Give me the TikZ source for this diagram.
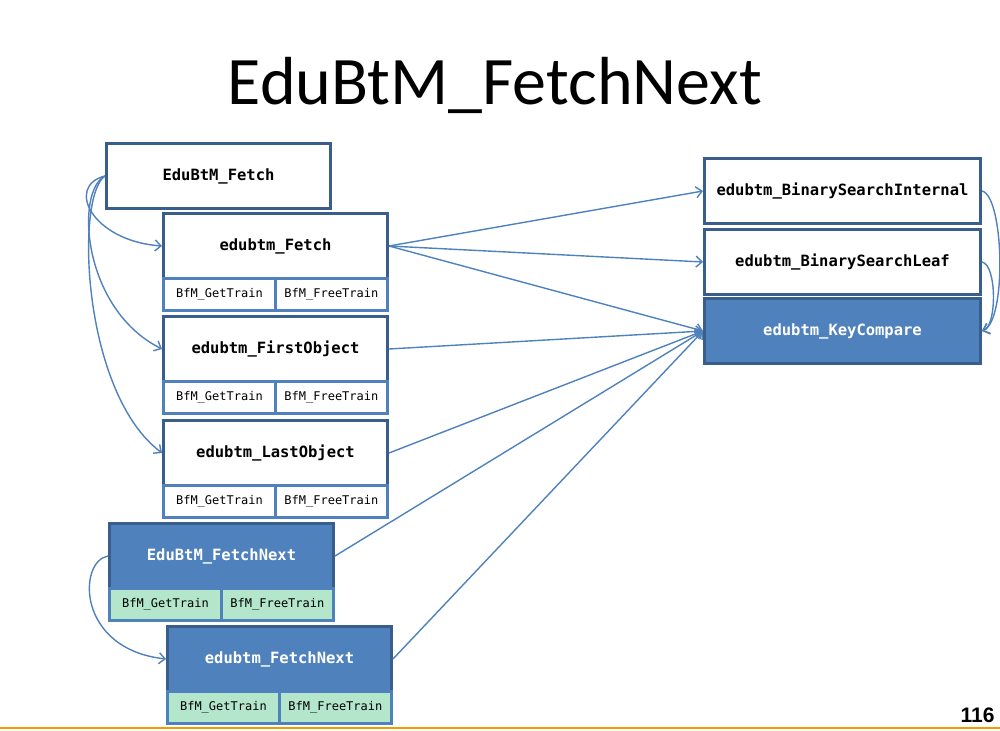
\documentclass[tikz,border=0pt]{standalone}
\usepackage{fontspec}
\setmainfont{Carlito}
\newfontfamily\monof{DejaVu Sans Mono}
\newfontfamily\pgnum{Liberation Sans}
\usetikzlibrary{arrows.meta}
\definecolor{dk}{HTML}{3A5E8C}
\definecolor{bl}{HTML}{4F81BD}
\definecolor{gr}{HTML}{B3E6CA}
\definecolor{og}{HTML}{F59B00}
\begin{document}
\begin{tikzpicture}[x=1pt,y=-1pt,
 fn/.style={draw=dk,line width=3pt,fill=white,minimum width=224pt,minimum height=65pt,inner sep=0pt,anchor=north west,font=\monof\bfseries\fontsize{15.5}{17}\selectfont},
 fnhi/.style={fn,fill=bl,text=white},
 sub/.style={draw=bl,line width=2.8pt,fill=white,minimum width=112pt,minimum height=32pt,inner sep=0pt,anchor=north west,font=\monof\fontsize{12}{14}\selectfont},
 subg/.style={sub,fill=gr},
 arr/.style={draw=bl,line width=1.4pt,-{Straight Barb[length=6pt,width=11pt]}}]
\useasboundingbox (0,0) rectangle (1000,730);
\node (title) at (495,85) {\fontsize{68}{70}\selectfont EduBtM\_FetchNext};
% left column
\node[fn] (A) at (105,142) {EduBtM\_Fetch};
\node[fn] (B) at (162,212) {edubtm\_Fetch};
\node[sub] (B1) at (162,277) {BfM\_GetTrain};
\node[sub] (B2) at (274,277) {BfM\_FreeTrain};
\node[fn] (C) at (162,315) {edubtm\_FirstObject};
\node[sub] (C1) at (162,380) {BfM\_GetTrain};
\node[sub] (C2) at (274,380) {BfM\_FreeTrain};
\node[fn] (D) at (162,419) {edubtm\_LastObject};
\node[sub] (D1) at (162,484) {BfM\_GetTrain};
\node[sub] (D2) at (274,484) {BfM\_FreeTrain};
\node[fnhi] (E) at (108,522) {EduBtM\_FetchNext};
\node[subg] (E1) at (108,587) {BfM\_GetTrain};
\node[subg] (E2) at (220,587) {BfM\_FreeTrain};
\node[fnhi] (F) at (166,625) {edubtm\_FetchNext};
\node[subg] (F1) at (166,690) {BfM\_GetTrain};
\node[subg] (F2) at (278,690) {BfM\_FreeTrain};
% right column
\node[fn,minimum width=276pt] (G) at (703,157) {edubtm\_BinarySearchInternal};
\node[fn,minimum width=276pt] (H) at (703,228) {edubtm\_BinarySearchLeaf};
\node[fnhi,minimum width=276pt] (K) at (703,297) {edubtm\_KeyCompare};
% arrows
\draw[arr] (A.west) .. controls +(-40,10) and +(-70,-5) .. (B.west);
\draw[arr] (A.west) .. controls +(-30,15) and +(-80,-40) .. (C.west);
\draw[arr] (A.west) .. controls +(-30,20) and +(-80,-60) .. (D.west);
\draw[arr] (E.west) .. controls +(-30,5) and +(-90,-10) .. (F.west);
\draw[arr] (B.east) -- (G.west);
\draw[arr] (B.east) -- (H.west);
\draw[arr] (B.east) -- (K.west);
\draw[arr] (C.east) -- (K.west);
\draw[arr] (D.east) -- (K.west);
\draw[arr] (E.east) -- (K.west);
\draw[arr] (F.east) -- (K.west);
\draw[arr] (G.east) .. controls +(22,5) and +(25,-10) .. (K.east);
\draw[arr] (H.east) .. controls +(15,3) and +(15,-5) .. (K.east);
% footer
\node[anchor=base east,font=\pgnum\bfseries\fontsize{21}{22}\selectfont] (pg) at (998,722) {116};
\draw[og,line width=2pt] (0,728) -- (1000,728);
\end{tikzpicture}
\end{document}
